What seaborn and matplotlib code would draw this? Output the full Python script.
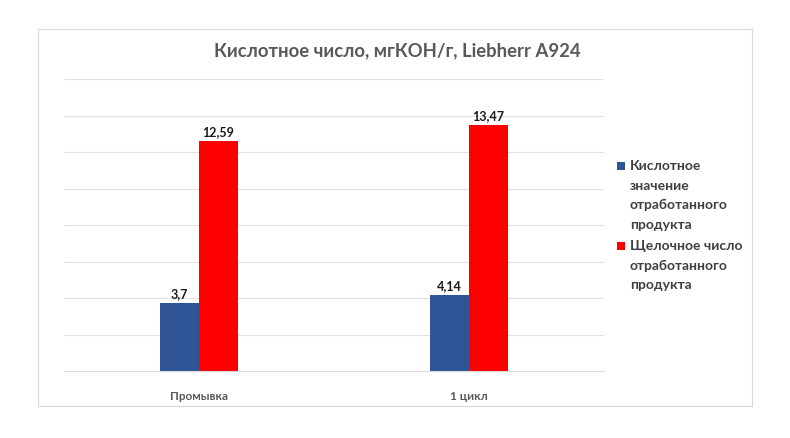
import numpy as np
import pandas as pd
import matplotlib
matplotlib.use("Agg")
import matplotlib.pyplot as plt
from matplotlib.patches import Rectangle
import seaborn as sns

categories = ["Промывка", "1 цикл"]
series_names = ["Кислотное\nзначение\nотработанного\nпродукта",
                "Щелочное число\nотработанного\nпродукта"]
acid_values = [3.7, 4.14]
alkali_values = [12.59, 13.47]
colors = ["#2F5597", "#FF0000"]

df = pd.DataFrame({
    "cat": categories * 2,
    "series": [series_names[0]] * 2 + [series_names[1]] * 2,
    "value": acid_values + alkali_values,
})

sns.set_style("white")
plt.rcParams["font.family"] = ["Lato", "DejaVu Sans"]

W, H = 790, 439
fig = plt.figure(figsize=(7.9, 4.39), dpi=100)
fig.patches.append(Rectangle((38 / W, 32 / H), 714 / W, 377 / H,
                             transform=fig.transFigure, fill=False,
                             edgecolor="#D9D9D9", linewidth=0.8))
ax = fig.add_axes([64 / W, 67 / H, 540 / W, 292 / H])

sns.barplot(data=df, x="cat", y="value", hue="series", palette=colors,
            width=0.29, ax=ax, saturation=1, linewidth=0, legend=False)

ax.set_ylim(0, 16)
ax.set_yticks(np.arange(0, 17, 2))
ax.yaxis.grid(True, color="#E0E0E0", linewidth=0.8)
ax.set_axisbelow(True)
ax.tick_params(axis="y", left=False, labelleft=False)
ax.tick_params(axis="x", bottom=False, labelsize=8.5, labelcolor="#595959", pad=10)
for lbl in ax.get_xticklabels():
    lbl.set_fontweight("bold")
ax.set_xlabel("")
ax.set_ylabel("")
for s in ["top", "right", "left"]:
    ax.spines[s].set_visible(False)
ax.spines["bottom"].set_color("#D9D9D9")

for cont in ax.containers:
    ax.bar_label(cont, labels=[f"{v:g}".replace(".", ",") for v in cont.datavalues],
                 padding=3, fontsize=9, fontweight="bold", color="#1a1a1a")

# legend: square marker next to first line of each wrapped label
legend_tops = [160, 240]
for name, col, top in zip(series_names, colors, legend_tops):
    fig.patches.append(Rectangle((617 / W, 1 - (top + 11) / H), 8 / W, 8 / H,
                                 transform=fig.transFigure, color=col, lw=0))
    fig.text(630 / W, 1 - top / H, name, ha="left", va="top", fontsize=10,
             fontweight="bold", color="#404040", linespacing=1.75)

fig.text(397 / W, 1 - 51 / H, "Кислотное число, мгКОН/г, Liebherr A924",
         ha="center", va="center", fontsize=13.3, fontweight="bold", color="#595959")

fig.savefig("out.png", dpi=100)
